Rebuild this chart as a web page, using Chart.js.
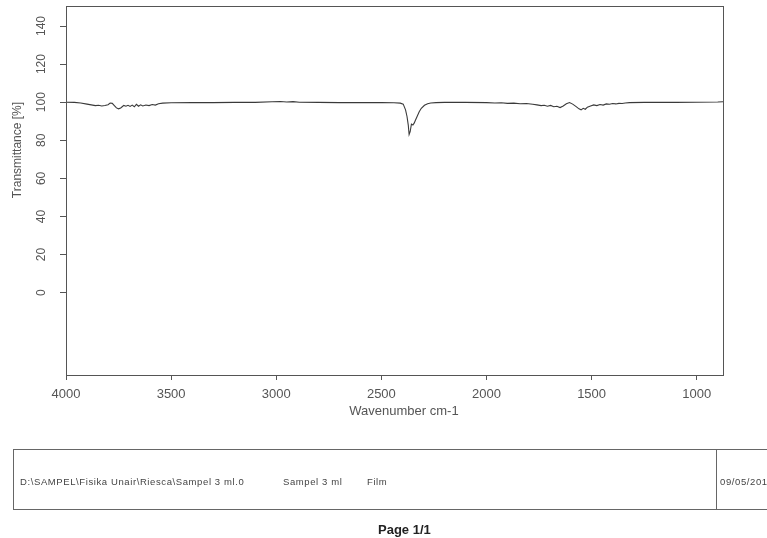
<!DOCTYPE html>
<html>
<head>
<meta charset="utf-8">
<script src="https://cdn.jsdelivr.net/npm/chart.js@4/dist/chart.umd.min.js"></script>
<style>
html,body{margin:0;padding:0;background:#fff;width:767px;height:538px;overflow:hidden;}
#c{position:absolute;left:0;top:0;}
.box{position:absolute;left:13px;top:449px;width:800px;height:61px;border:1.5px solid #666;box-sizing:border-box;}
.sep{position:absolute;left:716px;top:449px;width:0;height:61px;border-left:1.5px solid #666;}
.t{position:absolute;top:476px;font-family:"Liberation Sans",Arial,sans-serif;font-size:9.5px;letter-spacing:0.6px;color:#444;white-space:nowrap;line-height:11px;}
.page{position:absolute;top:522px;left:378px;font-family:"Liberation Sans",Arial,sans-serif;font-weight:bold;font-size:13px;color:#222;white-space:nowrap;}
</style>
</head>
<body>
<canvas id="c" width="767" height="538"></canvas>
<div class="box"></div>
<div class="sep"></div>
<div class="t" style="left:20px">D:\SAMPEL\Fisika Unair\Riesca\Sampel 3 ml.0</div>
<div class="t" style="left:283px">Sampel 3 ml</div>
<div class="t" style="left:367px">Film</div>
<div class="t" style="left:720px">09/05/2017</div>
<div class="page">Page 1/1</div>
<script>
const wavenumbers = [
  4000, 3960, 3930, 3900, 3880, 3860, 3845, 3830, 3815, 3800,
  3790, 3780, 3770, 3760, 3750, 3740, 3733, 3725, 3715, 3705,
  3695, 3685, 3675, 3665, 3655, 3645, 3635, 3620, 3605, 3590,
  3575, 3560, 3540, 3500, 3400, 3300, 3200, 3100, 3020, 2980,
  2950, 2920, 2890, 2800, 2700, 2600, 2500, 2440, 2410, 2396,
  2385, 2378, 2372, 2368, 2363, 2357, 2350, 2344, 2338, 2330,
  2320, 2310, 2295, 2280, 2265, 2240, 2200, 2100, 2000, 1960,
  1930, 1900, 1870, 1840, 1810, 1780, 1760, 1740, 1725, 1710,
  1695, 1680, 1665, 1650, 1635, 1620, 1605, 1590, 1575, 1560,
  1550, 1540, 1530, 1520, 1505, 1490, 1475, 1460, 1445, 1430,
  1415, 1400, 1385, 1370, 1355, 1340, 1320, 1250, 1100, 1000,
  900, 875
];
const transmittance = [
  100.0, 99.9, 99.6, 99.0, 98.6, 98.2, 98.4, 98.0, 98.3, 98.7,
  99.6, 99.4, 98.2, 97.0, 96.5, 96.9, 97.6, 98.3, 97.9, 98.4,
  97.8, 98.5, 97.6, 98.9, 97.9, 98.6, 98.0, 98.5, 98.2, 98.8,
  98.5, 99.2, 99.5, 99.7, 99.8, 99.8, 99.9, 99.9, 100.2, 100.4,
  100.1, 100.3, 100.0, 99.9, 99.8, 99.8, 99.8, 99.7, 99.5, 99.0,
  96.0, 92.5, 88.0, 83.0, 84.5, 88.5, 88.0, 89.0, 90.5, 92.5,
  95.0, 96.8, 98.4, 99.2, 99.6, 99.8, 99.9, 99.9, 99.8, 99.6,
  99.7, 99.4, 99.5, 99.2, 99.3, 98.9, 98.6, 98.2, 98.4, 97.9,
  98.3, 97.6, 97.9, 97.2, 98.0, 99.2, 99.8, 99.0, 97.8, 96.5,
  96.0, 96.8, 96.3, 97.4, 98.0, 98.6, 98.2, 98.8, 98.5, 99.1,
  98.9, 99.3, 99.1, 99.4, 99.3, 99.6, 99.8, 99.9, 99.9, 100.0,
  100.1, 100.2
];
const xTickValues = [4000, 3500, 3000, 2500, 2000, 1500, 1000];
const yTickValues = [0, 20, 40, 60, 80, 100, 120, 140];
const xTitle = 'Wavenumber cm-1';
const yTitle = 'Transmittance [%]';

const framePlugin = {
  id: 'frame',
  afterDraw(chart) {
    const {ctx, chartArea: a} = chart;
    ctx.save();
    ctx.strokeStyle = '#555';
    ctx.lineWidth = 1;
    ctx.strokeRect(Math.round(a.left) + 0.5, Math.round(a.top) + 0.5,
                   Math.round(a.right - a.left), Math.round(a.bottom - a.top));
    ctx.fillStyle = '#555';
    ctx.font = '13px "Liberation Sans", Arial, sans-serif';
    ctx.textAlign = 'center';
    ctx.textBaseline = 'middle';
    ctx.fillText(xTitle, 404, 411);
    ctx.translate(18, 150);
    ctx.rotate(-Math.PI / 2);
    ctx.font = '12px "Liberation Sans", Arial, sans-serif';
    ctx.fillText(yTitle, 0, 0);
    ctx.restore();
  }
};

new Chart(document.getElementById('c'), {
  type: 'line',
  data: {
    datasets: [{
      data: wavenumbers.map((w, i) => ({x: w, y: transmittance[i]})),
      borderColor: '#3a3a3a',
      borderWidth: 1.1,
      pointRadius: 0,
      tension: 0,
      fill: false
    }]
  },
  options: {
    responsive: false,
    animation: false,
    devicePixelRatio: 1,
    layout: {padding: {left: 0, right: 44, top: 6, bottom: 113}},
    plugins: {legend: {display: false}, tooltip: {enabled: false}},
    scales: {
      x: {
        type: 'linear',
        reverse: true,
        min: 875,
        max: 4000,
        afterBuildTicks: s => { s.ticks = xTickValues.map(v => ({value: v})); },
        afterFit: s => { s.height = 50; s.paddingLeft = 0; s.paddingRight = 0; },
        grid: {display: true, drawOnChartArea: false, drawTicks: true, tickLength: 5, color: '#555', lineWidth: 1},
        border: {display: true, color: '#555', width: 1},
        ticks: {
          color: '#555', autoSkip: false, maxRotation: 0, padding: 7,
          font: {family: '"Liberation Sans", Arial, sans-serif', size: 13},
          callback: v => String(v)
        }
      },
      y: {
        type: 'linear',
        min: -43.2,
        max: 150.5,
        afterBuildTicks: s => { s.ticks = yTickValues.map(v => ({value: v})); },
        afterFit: s => { s.width = 66; s.paddingTop = 0; s.paddingBottom = 0; },
        grid: {display: true, drawOnChartArea: false, drawTicks: true, tickLength: 6, color: '#555', lineWidth: 1},
        border: {display: true, color: '#555', width: 1},
        ticks: {
          color: '#555', autoSkip: false, minRotation: 90, maxRotation: 90,
          crossAlign: 'center', padding: 8,
          font: {family: '"Liberation Sans", Arial, sans-serif', size: 12},
          callback: v => String(v)
        }
      }
    }
  },
  plugins: [framePlugin]
});
</script>
</body>
</html>
